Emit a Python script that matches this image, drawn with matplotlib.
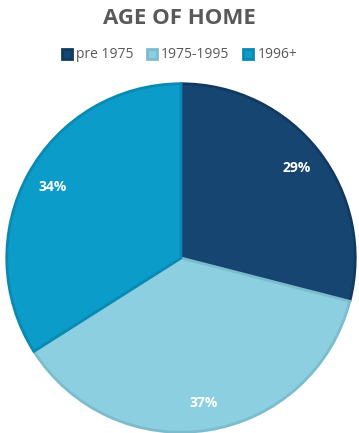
import matplotlib.pyplot as plt

# age brackets and their share of homes (%)
labels = ["pre 1975", "1975-1995", "1996+"]
shares = [29, 37, 34]

colors = ["#174571", "#8ccfe0", "#0b9cc9"]
edges = ["#123a60", "#7cbccd", "#0a8ab2"]

fig = plt.figure(figsize=(3.59, 4.33), dpi=100)
W, H = 359, 433
cx, cy, r = 181, 258, 176
ax = fig.add_axes([(cx - r) / W, (H - cy - r) / H, 2 * r / W, 2 * r / H])

wedges, texts = ax.pie(shares, colors=colors, startangle=90, counterclock=False,
                       radius=1, labels=[f"{s}%" for s in shares], labeldistance=0.84,
                       wedgeprops=dict(linewidth=2))
for w, ec in zip(wedges, edges):
    w.set_edgecolor(ec)
for t in texts:
    t.set_color("white")
    t.set_fontsize(10)
    t.set_fontweight("bold")
    t.set_family("Open Sans")
    t.set_ha("center")
    t.set_va("center")
ax.set_xlim(-1.01, 1.01)
ax.set_ylim(-1.01, 1.01)
ax.set_aspect("equal")
ax.axis("off")

fig.text(0.5, 1 - 19 / H, "AGE OF HOME", ha="center", va="center",
         fontsize=16, fontweight="bold", color="#595959", family="Open Sans")

fig.legend(wedges, labels, loc="center", bbox_to_anchor=(0.5, 1 - 55 / H), ncol=3,
           frameon=False, handlelength=0.7, handleheight=0.7, handletextpad=0.3,
           columnspacing=1.0, prop=dict(family="Open Sans", size=10),
           labelcolor="#595959")

fig.savefig("out.png", dpi=100)
